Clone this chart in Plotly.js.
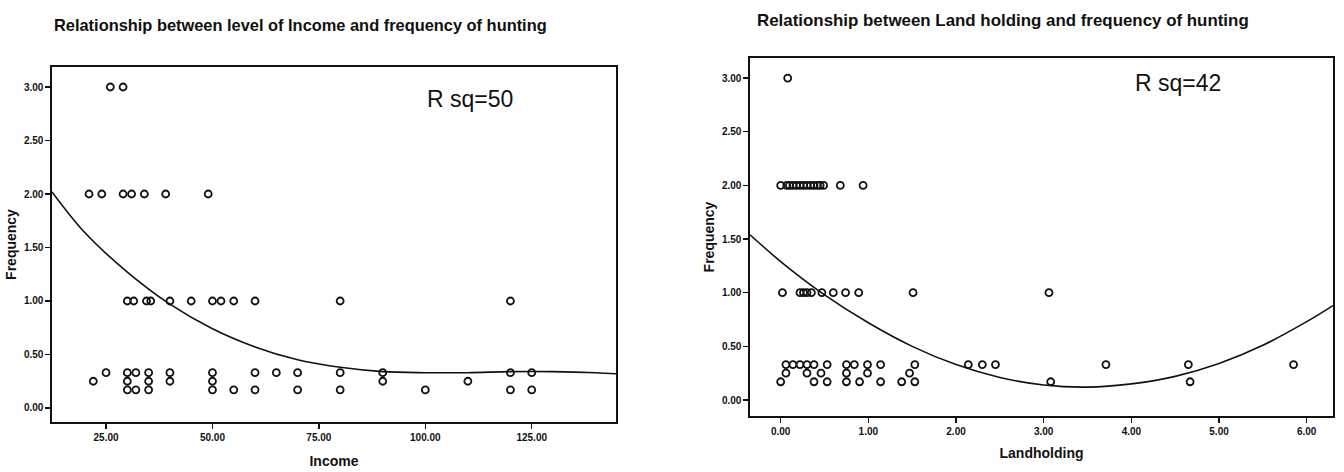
<!DOCTYPE html>
<html>
<head>
<meta charset="utf-8">
<script src="https://cdn.plot.ly/plotly-3.0.1.min.js"></script>
<style>
  html, body { margin: 0; padding: 0; background: #fff; }
  #chart { width: 1344px; height: 472px; }
</style>
</head>
<body>
<div id="chart"></div>
<script>
// ---- Income vs frequency of hunting ----
const incomeX = [
  26, 29,
  21, 24, 29, 31, 34, 39, 49,
  30, 31.5, 34.5, 35.5, 40, 45, 50, 52, 55, 60, 80, 120,
  22, 25,
  30, 30, 30, 32, 32, 35, 35, 35, 40, 40, 50, 50, 50, 55, 60, 60, 65,
  70, 70, 80, 80, 90, 90, 100, 110, 120, 120, 125, 125
];
const incomeFreq = [
  3, 3,
  2, 2, 2, 2, 2, 2, 2,
  1, 1, 1, 1, 1, 1, 1, 1, 1, 1, 1, 1,
  0.25, 0.33,
  0.33, 0.25, 0.17, 0.33, 0.17, 0.33, 0.25, 0.17, 0.33, 0.25, 0.33, 0.25, 0.17, 0.17, 0.33, 0.17, 0.33,
  0.33, 0.17, 0.33, 0.17, 0.33, 0.25, 0.17, 0.25, 0.33, 0.17, 0.33, 0.17
];
// fitted curve, income
const incomeFitX = [12.3, 20, 30, 40, 50, 60, 70, 80, 90, 100, 110, 120, 130, 140, 144.8];
const incomeFitY = [2.02, 1.64, 1.27, 0.97, 0.74, 0.57, 0.45, 0.38, 0.34, 0.33, 0.33, 0.34, 0.34, 0.33, 0.32];

// ---- Land holding vs frequency of hunting ----
const landX = [
  0.08,
  0.0, 0.07, 0.10, 0.14, 0.18, 0.22, 0.26, 0.30, 0.34, 0.38, 0.42, 0.45, 0.49, 0.68, 0.94,
  0.02, 0.22, 0.26, 0.30, 0.35, 0.47, 0.60, 0.74, 0.89, 1.51, 3.06,
  0.0, 0.06, 0.06, 0.14, 0.22, 0.30, 0.30, 0.38, 0.38, 0.46, 0.53, 0.53,
  0.75, 0.75, 0.75, 0.84, 0.90, 0.99, 0.99, 1.14, 1.14, 1.38, 1.47, 1.53, 1.53,
  2.14, 2.30, 2.45, 3.08, 3.71, 4.65, 4.67, 5.85
];
const landFreq = [
  3,
  2, 2, 2, 2, 2, 2, 2, 2, 2, 2, 2, 2, 2, 2, 2,
  1, 1, 1, 1, 1, 1, 1, 1, 1, 1, 1,
  0.17, 0.33, 0.25, 0.33, 0.33, 0.33, 0.25, 0.33, 0.17, 0.25, 0.33, 0.17,
  0.33, 0.25, 0.17, 0.33, 0.17, 0.33, 0.25, 0.33, 0.17, 0.17, 0.25, 0.33, 0.17,
  0.33, 0.33, 0.33, 0.17, 0.33, 0.33, 0.17, 0.33
];
// fitted curve, land holding
const landFitX = [-0.35, 0, 0.5, 1.0, 1.5, 2.0, 2.5, 3.0, 3.5, 4.0, 4.5, 5.0, 5.5, 6.0, 6.3];
const landFitY = [1.54, 1.29, 0.98, 0.72, 0.50, 0.33, 0.21, 0.14, 0.12, 0.15, 0.22, 0.34, 0.51, 0.73, 0.88];

const incomeTicks = [25, 50, 75, 100, 125];
const landTicks = [0, 1, 2, 3, 4, 5, 6];
const freqTicks = [0, 0.5, 1, 1.5, 2, 2.5, 3];

const chartTitles = [
  'Relationship between level of Income and frequency of hunting',
  'Relationship between Land holding and frequency of hunting'
];
const fitLabels = ['R sq=50', 'R sq=42'];

// page geometry helpers (pixels -> paper fraction)
const W = 1344, H = 472;
const fx = px => px / W;
const fy = py => 1 - py / H;

const ink = '#111';
const sans = 'Liberation Sans, Arial, sans-serif';
const markerStyle = { symbol: 'circle-open', size: 7, color: ink, line: { width: 1.8, color: ink } };
const tickFont = { family: sans, size: 10, color: ink, weight: 'bold' };
const axisTitleFont = { family: sans, size: 14, color: ink, weight: 'bold' };

function axisBase(extra) {
  return Object.assign({
    showline: true, mirror: true, linecolor: ink, linewidth: 1.6,
    ticks: 'outside', ticklen: 5, tickwidth: 1.4, tickcolor: ink,
    showgrid: false, zeroline: false, tickfont: tickFont,
    tickmode: 'array', tickformat: '.2f', automargin: false
  }, extra);
}

const traces = [
  { x: incomeX, y: incomeFreq, type: 'scatter', mode: 'markers', marker: markerStyle,
    xaxis: 'x', yaxis: 'y', hoverinfo: 'x+y' },
  { x: incomeFitX, y: incomeFitY, type: 'scatter', mode: 'lines',
    line: { color: ink, width: 1.6, shape: 'spline' }, xaxis: 'x', yaxis: 'y' },
  { x: landX, y: landFreq, type: 'scatter', mode: 'markers', marker: markerStyle,
    xaxis: 'x2', yaxis: 'y2', hoverinfo: 'x+y' },
  { x: landFitX, y: landFitY, type: 'scatter', mode: 'lines',
    line: { color: ink, width: 1.6, shape: 'spline' }, xaxis: 'x2', yaxis: 'y2' }
];

const layout = {
  width: W, height: H,
  margin: { l: 0, r: 0, t: 0, b: 0 },
  paper_bgcolor: '#fff', plot_bgcolor: '#fff',
  showlegend: false,
  xaxis: axisBase({
    domain: [fx(52), fx(616)], range: [12.3, 144.8], anchor: 'y',
    tickvals: incomeTicks,
    title: { text: 'Income', font: axisTitleFont, standoff: 14 }
  }),
  yaxis: axisBase({
    domain: [fy(422), fy(67)], range: [-0.131, 3.187], anchor: 'x',
    tickvals: freqTicks,
    title: { text: 'Frequency', font: axisTitleFont, standoff: 4 }
  }),
  xaxis2: axisBase({
    domain: [fx(750), fx(1333)], range: [-0.35, 6.30], anchor: 'y2',
    tickvals: landTicks,
    title: { text: 'Landholding', font: axisTitleFont, standoff: 12 }
  }),
  yaxis2: axisBase({
    domain: [fy(416), fy(58)], range: [-0.149, 3.187], anchor: 'x2',
    tickvals: freqTicks,
    title: { text: 'Frequency', font: axisTitleFont, standoff: 4 }
  }),
  annotations: [
    { text: chartTitles[0], xref: 'paper', yref: 'paper', x: fx(300), y: fy(25),
      xanchor: 'center', yanchor: 'middle', showarrow: false,
      font: { family: sans, size: 16.4, color: ink, weight: 'bold' } },
    { text: chartTitles[1], xref: 'paper', yref: 'paper', x: fx(1003), y: fy(21),
      xanchor: 'center', yanchor: 'middle', showarrow: false,
      font: { family: sans, size: 16.9, color: ink, weight: 'bold' } },
    { text: fitLabels[0], xref: 'paper', yref: 'paper', x: fx(470), y: fy(99),
      xanchor: 'center', yanchor: 'middle', showarrow: false,
      font: { family: sans, size: 23, color: ink } },
    { text: fitLabels[1], xref: 'paper', yref: 'paper', x: fx(1178), y: fy(83),
      xanchor: 'center', yanchor: 'middle', showarrow: false,
      font: { family: sans, size: 23, color: ink } }
  ]
};

Plotly.newPlot('chart', traces, layout, { displayModeBar: false, staticPlot: true });
</script>
</body>
</html>
